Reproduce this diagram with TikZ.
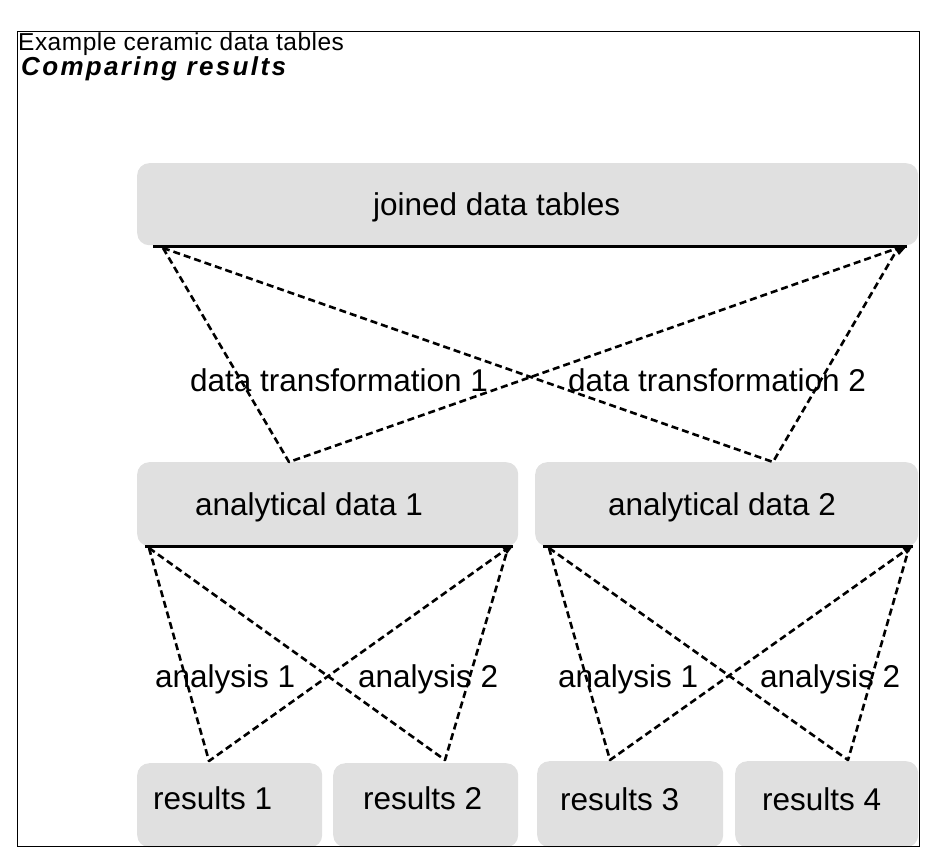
\documentclass[tikz,border=0pt]{standalone}
\usepackage{fontspec}
\setmainfont{Liberation Sans}
\begin{document}
\begin{tikzpicture}[x=1pt,y=-1pt,
  box/.style={draw=none, fill=gray!24, rounded corners=12pt, inner sep=0pt, anchor=north west},
  lbl/.style={font=\fontsize{31.5}{36}\selectfont, inner sep=0pt, anchor=base west},
  ttl/.style={font=\fontsize{24.5}{28}\selectfont\addfontfeature{LetterSpace=2}, inner sep=0pt, anchor=base west},
  ttlb/.style={font=\fontsize{26}{28}\selectfont\bfseries\itshape\addfontfeature{LetterSpace=9}, inner sep=0pt, anchor=base west},
  baseline/.style={line width=3pt},
  conn/.style={line width=2.6pt, dash pattern=on 7pt off 4pt, line join=round},
  tip/.style={fill=black}]
\useasboundingbox (0,0) rectangle (944,853);

% boxes
\node[box, minimum width=781pt, minimum height=82pt] (joined) at (137,163) {};
\node[box, minimum width=381pt, minimum height=84pt] (ana1) at (137,462) {};
\node[box, minimum width=383pt, minimum height=84pt] (ana2) at (535,462) {};
\node[box, minimum width=185pt, minimum height=84pt] (res1) at (137,763) {};
\node[box, minimum width=185pt, minimum height=84pt] (res2) at (333,763) {};
\node[box, minimum width=186pt, minimum height=86pt] (res3) at (537,761) {};
\node[box, minimum width=183pt, minimum height=86pt] (res4) at (735,761) {};

% frame
\node[draw, line width=1.4pt, minimum width=902pt, minimum height=815pt, inner sep=0pt, anchor=north west] (frame) at (17,31) {};

% titles
\node[ttl] (t1) at (18,51) {Example ceramic data tables};
\node[ttlb] (t2) at (21,76) {Comparing results};

% texts
\node[lbl] (tj) at (373,215) {joined data tables};
\node[lbl] (ta1) at (195,515) {analytical data 1};
\node[lbl] (ta2) at (608,515) {analytical data 2};
\node[lbl] (tdt1) at (190,391) {data transformation 1};
\node[lbl] (tdt2) at (568,391) {data transformation 2};
\node[lbl] (tan1) at (155,687) {analysis 1};
\node[lbl] (tan2) at (358,687) {analysis 2};
\node[lbl] (tan3) at (558,687) {analysis 1};
\node[lbl] (tan4) at (760,687) {analysis 2};
\node[lbl] (tr1) at (153,809) {results 1};
\node[lbl] (tr2) at (363,809) {results 2};
\node[lbl] (tr3) at (560,810) {results 3};
\node[lbl] (tr4) at (762,810) {results 4};

% base lines
\coordinate (jl) at (153,246); \coordinate (jr) at (907,246);
\coordinate (a1l) at (145,546); \coordinate (a1r) at (513,546);
\coordinate (a2l) at (543,546); \coordinate (a2r) at (913,546);
\draw[baseline] (jl) -- (jr);
\draw[baseline] (a1l) -- (a1r);
\draw[baseline] (a2l) -- (a2r);
\fill[tip] (jr) -- ++(-14,0) -- ++(6,9) -- cycle;
\fill[tip] (a1r) -- ++(-12,0) -- ++(6,8) -- cycle;
\fill[tip] (a2r) -- ++(-12,0) -- ++(6,8) -- cycle;

% apexes
\coordinate (jpl) at (163,248); \coordinate (jpr) at (898,248);
\coordinate (d1) at (289,462); \coordinate (d2) at (773,462);
\coordinate (p1l) at (149,548); \coordinate (p1r) at (508,548);
\coordinate (r1) at (209,761); \coordinate (r2) at (445,760);
\coordinate (p2l) at (549,548); \coordinate (p2r) at (909,548);
\coordinate (r3) at (610,760); \coordinate (r4) at (848,760);

\draw[conn] (jpl) -- (d1) -- (jpr);
\draw[conn] (jpl) -- (d2) -- (jpr);
\draw[conn] (p1l) -- (r1) -- (p1r);
\draw[conn] (p1l) -- (r2) -- (p1r);
\draw[conn] (p2l) -- (r3) -- (p2r);
\draw[conn] (p2l) -- (r4) -- (p2r);
\end{tikzpicture}
\end{document}
